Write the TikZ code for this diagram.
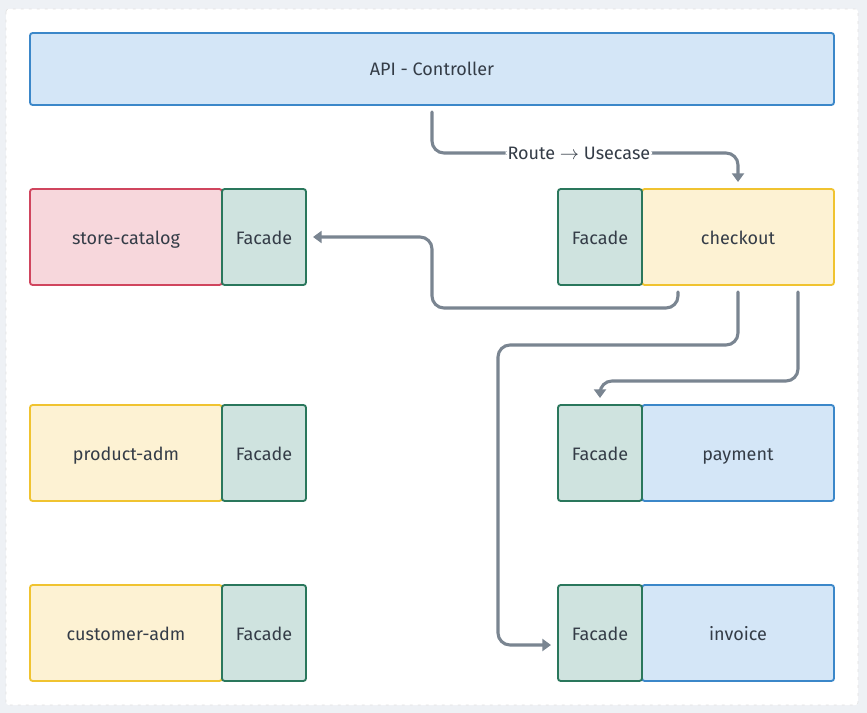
\documentclass[tikz,border=0pt]{standalone}
\usepackage{fontspec}
\setmainfont{Fira Sans}
\usetikzlibrary{arrows.meta,positioning}

\definecolor{bluefill}{HTML}{D4E6F7}
\definecolor{blueline}{HTML}{3B87C9}
\definecolor{redfill}{HTML}{F7D7DC}
\definecolor{redline}{HTML}{D0455E}
\definecolor{yelfill}{HTML}{FDF2D3}
\definecolor{yelline}{HTML}{F0C330}
\definecolor{grnfill}{HTML}{CFE3DF}
\definecolor{grnline}{HTML}{2A775C}
\definecolor{txt}{HTML}{343C47}
\definecolor{flowcol}{HTML}{7A8591}
\definecolor{pagebg}{HTML}{EEF1F5}

\tikzset{
  box/.style={draw, line width=1.4pt, rounded corners=2pt, inner sep=0pt, outer sep=0pt,
    minimum height=72pt, text=txt, text height=12pt, text depth=1.5pt,
    font=\fontsize{13.5}{16}\selectfont},
  modbox/.style={box, minimum width=144pt},
  facadebox/.style={box, minimum width=63pt, fill=grnfill, draw=grnline},
  bluemod/.style={modbox, fill=bluefill, draw=blueline},
  redmod/.style={modbox, fill=redfill, draw=redline},
  yelmod/.style={modbox, fill=yelfill, draw=yelline},
  flow/.style={draw=flowcol, line width=2.3pt, rounded corners=9pt, line cap=round,
    -{Triangle[width=9pt,length=6.5pt]}},
  flowlabel/.style={fill=white, text=txt, inner sep=1.5pt, font=\fontsize{13.5}{16}\selectfont}
}

\begin{document}
\begin{tikzpicture}[x=0.75pt, y=-0.75pt]
  % page and panel
  \fill[pagebg] (0,0) rectangle (867,713);
  \draw[fill=white, draw=black!12, dash pattern=on 2pt off 4pt, rounded corners=2pt] (6,9) rectangle (858,705);
  \useasboundingbox (0,0) rectangle (867,713);

  % controller
  \node[box, fill=bluefill, draw=blueline, minimum width=603pt, minimum height=54pt] (api) at (432,69) {API - Controller};

  % left column
  \node[redmod] (catalog) at (126,237) {store-catalog};
  \node[facadebox, right=0pt of catalog] (catfac) {Facade};

  \node[yelmod] (product) at (126,453) {product-adm};
  \node[facadebox, right=0pt of product] (prodfac) {Facade};

  \node[yelmod] (customer) at (126,633) {customer-adm};
  \node[facadebox, right=0pt of customer] (custfac) {Facade};

  % right column
  \node[yelmod] (checkout) at (738,237) {checkout};
  \node[facadebox, left=0pt of checkout] (ckfac) {Facade};

  \node[bluemod] (payment) at (738,453) {payment};
  \node[facadebox, left=0pt of payment] (payfac) {Facade};

  \node[bluemod] (invoice) at (738,633) {invoice};
  \node[facadebox, left=0pt of invoice] (invfac) {Facade};

  % connectors
  \draw[flow] ([shift={(0,7)}]api.south) -- ++(0,41) -| node[flowlabel, pos=0.24] {Route $\rightarrow$ Usecase} ([shift={(0,-7)}]checkout.north);
  \draw[flow] ([shift={(36,7)}]checkout.south west) -- ++(0,16) -| ([shift={(126,0)}]catfac.east) -- ([shift={(7,0)}]catfac.east);
  \draw[flow] ([shift={(0,7)}]checkout.south) -- ++(0,53) -| ([shift={(-60,12)}]invfac.west) -- ([shift={(-7,12)}]invfac.west);
  \draw[flow] ([shift={(-36,7)}]checkout.south east) -- ++(0,89) -| ([shift={(0,-7)}]payfac.north);
\end{tikzpicture}
\end{document}
